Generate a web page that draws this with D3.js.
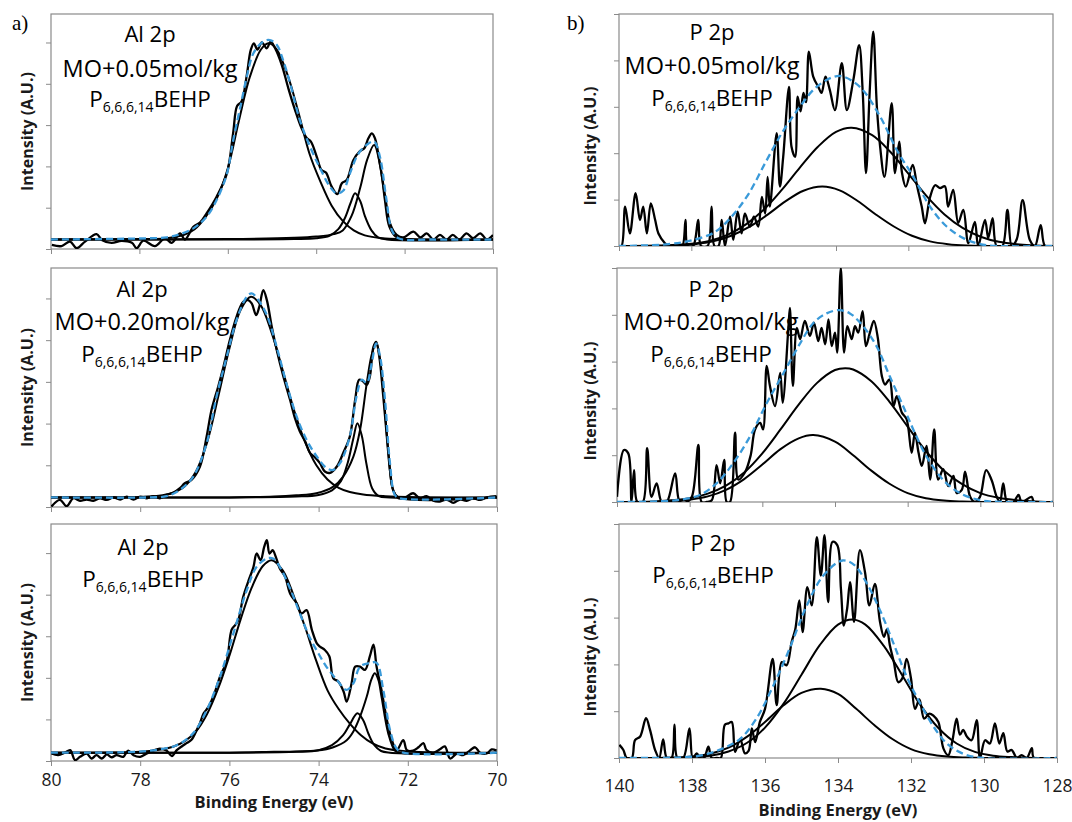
<!DOCTYPE html>
<html><head><meta charset="utf-8">
<script src="https://cdn.jsdelivr.net/npm/d3@7"></script>
<style>body{margin:0;background:#fff}svg{display:block}</style>
</head><body><svg id="chart" width="1072" height="822"></svg>
<script>
// ---------------- DATA (energy eV, intensity in axis-tick units) ----------------
const alTicks = [80, 78, 76, 74, 72, 70];
const pTicks = [140, 138, 136, 134, 132, 130, 128];

// Al 2p, MO + 0.05 mol/kg
const al005Raw = [[79.98,0.10],[79.76,0.07],[79.57,0.18],[79.42,0.02],[79.23,0.18],[78.97,0.36],[78.85,0.22],[78.63,0.15],[78.40,0.20],[78.17,0.15],[78.06,0.02],[77.91,0.20],[77.65,0.07],[77.42,0.26],[77.27,0.15],[77.08,0.38],[76.97,0.23],[76.78,0.54],[76.63,0.64],[76.48,0.86],[76.25,1.27],[76.02,1.83],[75.88,2.80],[75.79,3.46],[75.69,3.57],[75.57,4.21],[75.48,4.82],[75.41,4.98],[75.33,4.83],[75.23,5.00],[75.12,4.86],[75.03,5.02],[74.93,4.86],[74.78,4.46],[74.63,3.89],[74.48,3.37],[74.33,2.92],[74.21,2.68],[74.12,2.60],[73.99,2.24],[73.88,1.91],[73.78,1.85],[73.65,1.51],[73.52,1.33],[73.42,1.59],[73.31,1.67],[73.16,2.15],[73.02,2.36],[72.91,2.44],[72.82,2.68],[72.74,2.80],[72.67,2.68],[72.56,2.07],[72.44,1.27],[72.33,0.62],[72.18,0.34],[72.03,0.28],[71.80,0.42],[71.64,0.28],[71.50,0.38],[71.35,0.23],[71.20,0.34],[71.05,0.23],[70.91,0.34],[70.76,0.23],[70.60,0.38],[70.45,0.26],[70.29,0.38],[70.14,0.23],[70.00,0.34]];
const al005Main = [[80,0.23],[78,0.24],[77.5,0.25],[77,0.34],[76.75,0.48],[76.5,0.78],[76.25,1.22],[76,1.95],[75.75,3.10],[75.5,4.17],[75.25,4.83],[75.08,4.98],[74.9,4.84],[74.65,4.22],[74.4,3.30],[74.15,2.30],[73.9,1.62],[73.65,1.05],[73.4,0.68],[73.15,0.45],[72.9,0.33],[72.5,0.26],[72,0.24],[70,0.23]];
const al005Peak1 = [[80,0.23],[76,0.23],[74.5,0.24],[74,0.26],[73.7,0.32],[73.5,0.48],[73.35,0.75],[73.22,1.12],[73.12,1.35],[73.0,1.15],[72.9,0.80],[72.75,0.45],[72.6,0.28],[72.4,0.23],[70,0.23]];
const al005Peak2 = [[80,0.23],[76,0.24],[74.5,0.27],[74,0.30],[73.6,0.36],[73.4,0.45],[73.2,0.80],[73.0,1.50],[72.85,2.15],[72.69,2.52],[72.55,2.00],[72.45,1.20],[72.35,0.55],[72.2,0.30],[72.0,0.24],[70,0.23]];
const al005Env = [[80,0.23],[77.76,0.26],[77.38,0.28],[77.08,0.36],[76.78,0.50],[76.48,0.78],[76.25,1.19],[76.02,1.82],[75.88,2.62],[75.72,3.42],[75.57,4.17],[75.42,4.74],[75.20,5.02],[75.05,5.06],[74.89,4.94],[74.74,4.54],[74.59,4.01],[74.37,3.12],[74.14,2.48],[73.91,1.95],[73.69,1.51],[73.54,1.35],[73.39,1.41],[73.24,1.82],[73.05,2.30],[72.86,2.52],[72.69,2.60],[72.56,2.24],[72.41,1.19],[72.29,0.46],[72.14,0.26],[71.35,0.23],[70,0.23]];

// Al 2p, MO + 0.20 mol/kg
const al020Raw = [[79.99,0.01],[79.80,0.17],[79.65,0.02],[79.50,0.21],[79.35,0.15],[79.20,0.18],[79.05,0.15],[78.90,0.21],[78.75,0.17],[78.60,0.23],[78.45,0.18],[78.30,0.25],[78.15,0.18],[78.00,0.25],[77.85,0.21],[77.71,0.26],[77.56,0.21],[77.41,0.29],[77.26,0.34],[77.11,0.45],[77.00,0.57],[76.85,0.65],[76.66,0.97],[76.51,1.69],[76.40,2.33],[76.25,2.89],[76.14,3.33],[75.99,4.00],[75.84,4.56],[75.69,4.92],[75.58,4.96],[75.50,4.88],[75.40,4.60],[75.33,4.80],[75.24,5.20],[75.16,4.96],[75.05,4.32],[74.94,3.77],[74.79,3.13],[74.64,2.57],[74.53,2.13],[74.42,1.81],[74.30,1.57],[74.19,1.29],[74.08,1.19],[73.97,1.05],[73.86,0.85],[73.74,0.82],[73.59,0.97],[73.45,1.29],[73.30,1.69],[73.18,2.57],[73.09,3.05],[73.00,3.01],[72.92,2.93],[72.85,3.13],[72.77,3.84],[72.71,3.96],[72.64,3.61],[72.55,2.65],[72.47,1.69],[72.40,0.89],[72.33,0.41],[72.21,0.21],[72.06,0.23],[71.88,0.33],[71.73,0.21],[71.58,0.26],[71.43,0.15],[71.28,0.13],[71.13,0.18],[70.98,0.10],[70.83,0.18],[70.68,0.15],[70.53,0.21],[70.38,0.17],[70.23,0.23],[70.01,0.26]];
const al020Main = [[80,0.23],[78,0.24],[77.5,0.28],[77.25,0.35],[77,0.50],[76.75,0.85],[76.5,1.55],[76.25,2.65],[76,3.80],[75.75,4.72],[75.52,5.04],[75.3,4.84],[75.05,4.17],[74.8,3.26],[74.55,2.32],[74.3,1.55],[74.05,1.00],[73.8,0.66],[73.55,0.46],[73.3,0.36],[73,0.30],[72.5,0.26],[72,0.24],[70,0.23]];
const al020Peak1 = [[80,0.23],[76,0.23],[74.5,0.25],[74,0.29],[73.7,0.40],[73.5,0.62],[73.35,1.05],[73.22,1.65],[73.13,2.01],[73.03,1.70],[72.93,1.05],[72.8,0.45],[72.65,0.26],[72.4,0.23],[70,0.23]];
const al020Peak2 = [[80,0.23],[76,0.23],[75,0.25],[74.5,0.28],[74.05,0.33],[73.67,0.49],[73.45,0.73],[73.22,1.21],[73.07,1.85],[72.92,2.97],[72.81,3.65],[72.71,3.94],[72.63,3.60],[72.55,2.81],[72.44,1.37],[72.33,0.41],[72.21,0.23],[70,0.23]];
const al020Env = [[80,0.23],[77.78,0.23],[77.41,0.26],[77.11,0.41],[76.81,0.73],[76.51,1.53],[76.29,2.64],[76.06,3.60],[75.84,4.48],[75.61,5.04],[75.50,5.12],[75.35,4.96],[75.16,4.60],[74.94,3.84],[74.72,2.96],[74.49,2.16],[74.27,1.61],[74.04,1.21],[73.82,0.93],[73.67,0.89],[73.52,1.05],[73.30,1.69],[73.15,2.65],[73.03,3.05],[72.92,2.97],[72.81,3.44],[72.71,3.92],[72.62,3.60],[72.51,2.56],[72.40,1.05],[72.29,0.29],[72.18,0.21],[70,0.23]];

// Al 2p, neat P6,6,6,14BEHP
const alNeatRaw = [[79.99,0.18],[79.84,0.14],[79.69,0.20],[79.57,0.26],[79.46,0.02],[79.35,0.10],[79.20,0.18],[79.09,0.06],[78.98,0.14],[78.86,0.06],[78.75,0.16],[78.64,0.09],[78.53,0.14],[78.38,0.10],[78.27,0.25],[78.15,0.14],[78.00,0.10],[77.85,0.18],[77.71,0.25],[77.56,0.30],[77.41,0.25],[77.29,0.12],[77.18,0.26],[77.07,0.35],[76.96,0.43],[76.85,0.51],[76.73,0.75],[76.66,0.91],[76.58,1.14],[76.47,1.30],[76.36,1.55],[76.21,2.03],[76.06,2.40],[75.95,3.16],[75.87,3.27],[75.80,3.39],[75.69,3.95],[75.58,4.31],[75.46,4.67],[75.39,4.99],[75.30,4.83],[75.22,5.15],[75.16,5.31],[75.10,4.99],[75.03,5.07],[74.96,4.91],[74.87,4.63],[74.75,4.43],[74.64,4.03],[74.49,3.79],[74.38,3.55],[74.27,3.63],[74.15,3.15],[74.04,2.83],[73.97,2.75],[73.86,2.67],[73.76,2.52],[73.67,1.99],[73.56,1.91],[73.44,1.67],[73.37,1.43],[73.26,1.87],[73.18,2.27],[73.07,2.27],[72.96,2.19],[72.85,2.52],[72.77,2.80],[72.70,2.27],[72.59,1.71],[72.47,0.99],[72.36,0.51],[72.25,0.26],[72.10,0.50],[72.02,0.26],[71.88,0.25],[71.76,0.33],[71.65,0.43],[71.58,0.26],[71.43,0.20],[71.28,0.28],[71.17,0.35],[71.05,0.06],[70.90,0.18],[70.76,0.14],[70.61,0.25],[70.49,0.33],[70.38,0.20],[70.23,0.18],[70.12,0.28],[70.01,0.25]];
const alNeatMain = [[80,0.20],[78,0.22],[77.5,0.28],[77.25,0.35],[77,0.48],[76.75,0.71],[76.5,1.13],[76.25,1.75],[76,2.53],[75.75,3.40],[75.5,4.17],[75.25,4.69],[75.05,4.83],[74.8,4.58],[74.55,3.95],[74.3,3.21],[74.05,2.40],[73.8,1.70],[73.55,1.25],[73.3,0.90],[73.05,0.62],[72.8,0.43],[72.5,0.30],[72,0.23],[70,0.20]];
const alNeatPeak1 = [[80,0.20],[76,0.20],[74.5,0.22],[74,0.26],[73.7,0.38],[73.45,0.62],[73.3,0.88],[73.13,1.15],[73.0,0.98],[72.88,0.65],[72.75,0.38],[72.6,0.24],[72.4,0.20],[70,0.20]];
const alNeatPeak2 = [[80,0.20],[76,0.20],[75,0.22],[74.5,0.23],[74.04,0.25],[73.67,0.33],[73.37,0.50],[73.22,0.71],[73.07,1.07],[72.92,1.55],[72.82,1.95],[72.74,2.11],[72.66,1.95],[72.59,1.55],[72.44,0.67],[72.29,0.25],[72.18,0.20],[70,0.20]];
const alNeatEnv = [[80,0.20],[78.15,0.22],[77.56,0.28],[77.18,0.38],[76.81,0.67],[76.51,1.22],[76.21,2.03],[75.91,3.07],[75.61,4.11],[75.39,4.67],[75.16,4.87],[75.02,4.87],[74.87,4.67],[74.64,4.15],[74.42,3.55],[74.19,2.95],[74.00,2.58],[73.82,2.26],[73.59,1.95],[73.37,1.71],[73.22,1.87],[73.07,2.27],[72.85,2.36],[72.70,2.36],[72.55,1.71],[72.40,0.75],[72.25,0.30],[72.10,0.20],[70,0.20]];

// P 2p, MO + 0.05 mol/kg
const p005Raw = [[140.0,0],[139.93,0],[139.83,0.85],[139.70,0.27],[139.54,1.14],[139.42,0.56],[139.33,0.85],[139.23,0.27],[139.12,0.92],[139.00,0.56],[138.91,0.27],[138.73,0.06],[138.64,0],[138.50,0],[138.36,0.02],[138.25,0],[138.16,0.56],[138.10,0],[137.95,0],[137.81,0.56],[137.73,0],[137.55,0],[137.44,0.85],[137.36,0],[137.25,0],[137.16,0.56],[137.07,0],[136.93,0.63],[136.84,0.13],[136.72,0.74],[136.61,0.27],[136.52,0.70],[136.38,0.42],[136.27,0.63],[136.15,0.42],[136.05,1.06],[135.96,0.70],[135.89,1.49],[135.83,0.85],[135.64,2.43],[135.55,1.28],[135.46,1.92],[135.30,3.43],[135.23,2.14],[135.13,1.92],[135.06,3.22],[134.98,2.90],[134.90,3.30],[134.83,3.10],[134.75,4.19],[134.63,3.65],[134.49,3.43],[134.40,3.30],[134.29,3.65],[134.17,3.36],[134.03,2.93],[133.84,3.94],[133.70,2.93],[133.52,3.58],[133.36,4.33],[133.26,3.30],[133.17,1.57],[133.07,3.30],[132.97,4.62],[132.87,3.00],[132.78,2.14],[132.66,1.49],[132.46,3.08],[132.37,1.57],[132.25,2.25],[132.18,1.60],[132.07,1.28],[131.88,1.75],[131.76,1.30],[131.63,0.85],[131.54,0.49],[131.40,1.05],[131.26,1.31],[131.12,1.25],[130.99,1.29],[130.90,0.85],[130.76,1.21],[130.62,0.50],[130.48,0.78],[130.34,0.06],[130.16,0.52],[130.07,0],[129.88,0.56],[129.79,0.17],[129.67,0.60],[129.56,0],[129.40,0],[129.26,0.78],[129.14,0],[129.0,0.15],[128.84,0.99],[128.64,0.13],[128.50,0],[128.34,0.45],[128.22,0],[128.0,0]];
const p005Major = [[140,0],[139,0.01],[138,0.05],[137.5,0.11],[137,0.24],[136.5,0.46],[136,0.78],[135.5,1.21],[135,1.69],[134.5,2.14],[134,2.46],[133.57,2.55],[133,2.39],[132.5,2.03],[132,1.56],[131.5,1.08],[131,0.68],[130.5,0.39],[130,0.20],[129.5,0.09],[129,0.04],[128,0]];
const p005Minor = [[140,0],[139,0],[138.4,0.01],[137.9,0.04],[137.4,0.10],[136.9,0.22],[136.4,0.41],[135.9,0.67],[135.4,0.96],[134.9,1.19],[134.38,1.28],[133.9,1.20],[133.4,0.97],[132.9,0.68],[132.4,0.42],[131.9,0.22],[131.4,0.10],[130.9,0.04],[130.4,0.01],[130,0],[128,0]];
const p005Env = [[140,0],[138.64,0.04],[137.95,0.13],[137.35,0.30],[136.9,0.62],[136.42,1.12],[135.95,1.80],[135.50,2.43],[135.0,3.00],[134.58,3.40],[134.12,3.63],[133.84,3.66],[133.34,3.43],[132.78,2.79],[132.32,2.07],[131.86,1.49],[131.40,0.85],[130.94,0.42],[130.48,0.17],[130.02,0.04],[129.5,0],[128,0]];

// P 2p, MO + 0.20 mol/kg
const p020Raw = [[140.0,0.11],[139.81,1.11],[139.69,1.04],[139.60,0],[139.53,0.68],[139.44,0],[139.29,0],[139.17,1.15],[139.05,0.11],[138.91,0.40],[138.77,0],[138.63,0],[138.40,0.61],[138.27,0],[138.08,0],[137.94,0.11],[137.76,1.22],[137.67,0],[137.53,0],[137.39,0.04],[137.26,0.79],[137.16,0.40],[137.05,0.90],[136.98,0],[136.89,0],[136.75,1.48],[136.66,0.48],[136.48,0.63],[136.32,1.00],[136.20,1.55],[136.06,1.69],[135.98,1.55],[135.88,2.91],[135.79,2.48],[135.65,2.05],[135.51,2.76],[135.44,2.12],[135.28,3.76],[135.24,4.15],[135.16,2.48],[135.05,3.72],[134.96,3.48],[134.83,3.87],[134.69,3.55],[134.58,3.83],[134.46,3.44],[134.37,3.72],[134.27,3.37],[134.18,3.90],[134.09,3.33],[134.00,3.62],[133.94,3.19],[133.84,5.0],[133.75,3.19],[133.66,3.76],[133.54,3.48],[133.45,3.76],[133.36,3.62],[133.24,4.08],[133.15,3.33],[133.04,3.62],[132.93,3.87],[132.82,3.50],[132.71,2.69],[132.62,2.51],[132.50,2.62],[132.39,2.05],[132.30,2.26],[132.16,1.91],[132.03,1.77],[131.89,1.05],[131.80,1.48],[131.70,1.05],[131.61,0.77],[131.48,1.20],[131.38,0.48],[131.27,1.55],[131.16,0.48],[131.02,0.70],[130.88,0.34],[130.74,0.56],[130.65,0.19],[130.51,0.26],[130.42,0.65],[130.28,0.11],[130.15,0],[130.01,0.11],[129.84,0.68],[129.69,0.47],[129.55,0.11],[129.46,0],[129.37,0.40],[129.26,0],[129.09,0],[128.95,0.15],[128.86,0],[128.59,0.11],[128.52,0],[128.01,0]];
const p020Major = [[140,0],[139,0.01],[138,0.08],[137.5,0.18],[137,0.35],[136.5,0.63],[136,1.04],[135.5,1.55],[135,2.08],[134.5,2.54],[134,2.82],[133.72,2.86],[133.5,2.83],[133,2.58],[132.5,2.14],[132,1.61],[131.5,1.09],[131,0.67],[130.5,0.38],[130,0.19],[129.5,0.09],[129,0.04],[128,0]];
const p020Minor = [[140,0],[139,0],[138.5,0.02],[138,0.05],[137.5,0.12],[137,0.26],[136.5,0.49],[136,0.80],[135.5,1.13],[135,1.36],[134.6,1.43],[134,1.29],[133.5,1.00],[133,0.67],[132.5,0.39],[132,0.19],[131.5,0.08],[131,0.03],[130.5,0.01],[130,0],[128,0]];
const p020Env = [[140,0],[138.36,0.04],[137.72,0.15],[137.26,0.40],[136.80,0.83],[136.34,1.40],[135.88,2.11],[135.42,2.75],[134.96,3.39],[134.60,3.82],[134.23,4.03],[133.88,4.10],[133.59,4.03],[133.22,3.75],[132.85,3.32],[132.49,2.68],[132.12,2.04],[131.84,1.54],[131.48,0.97],[131.02,0.47],[130.56,0.19],[130.01,0.04],[129.37,0],[128.01,0]];

// P 2p, neat P6,6,6,14BEHP
const pNeatRaw = [[139.99,0.28],[139.88,0.17],[139.79,0],[139.65,0],[139.56,0.38],[139.42,0.46],[139.26,0.85],[139.15,0.60],[139.01,0.17],[138.90,0],[138.79,0.40],[138.69,0],[138.56,0],[138.48,0.71],[138.40,0],[138.24,0],[138.07,0.63],[137.98,0],[137.87,0.10],[137.78,0],[137.67,0],[137.55,0.24],[137.46,0],[137.32,0],[137.21,0],[137.10,0.71],[137.0,0.74],[136.91,0.77],[136.82,0.13],[136.68,0.41],[136.55,0.10],[136.45,0.15],[136.36,0.63],[136.27,0.34],[136.14,0.77],[136.00,1.05],[135.79,2.12],[135.68,1.13],[135.54,2.05],[135.41,1.98],[135.27,2.48],[135.17,2.75],[135.06,3.37],[134.97,2.69],[134.84,3.65],[134.72,3.26],[134.58,4.72],[134.47,3.90],[134.37,4.76],[134.27,3.33],[134.15,4.62],[134.02,4.55],[133.92,3.62],[133.84,2.83],[133.75,3.19],[133.67,3.76],[133.56,2.91],[133.40,4.44],[133.26,3.97],[133.14,3.26],[132.99,3.72],[132.85,2.91],[132.74,2.59],[132.66,2.75],[132.58,2.41],[132.47,2.05],[132.35,1.62],[132.24,1.70],[132.12,2.12],[132.00,1.70],[131.89,1.05],[131.77,1.25],[131.64,0.84],[131.50,0.95],[131.38,0.90],[131.25,0.77],[131.11,0.20],[130.98,0.06],[130.87,0.35],[130.75,0.84],[130.66,0.50],[130.57,0.60],[130.47,0.46],[130.34,0.38],[130.20,0.81],[130.11,0],[129.97,0.38],[129.84,0.31],[129.70,0.74],[129.58,0.31],[129.47,0.53],[129.36,0.14],[129.24,0.17],[129.10,0],[128.97,0.06],[128.83,0],[128.69,0.21],[128.63,0],[128.01,0]];
const pNeatMajor = [[140,0],[139,0],[138.5,0],[138,0.02],[137.5,0.05],[137,0.14],[136.5,0.32],[136,0.65],[135.5,1.15],[135,1.78],[134.5,2.41],[134,2.85],[133.6,2.96],[133.25,2.85],[132.75,2.40],[132.25,1.78],[131.75,1.14],[131.25,0.64],[130.75,0.31],[130.25,0.13],[129.75,0.05],[129.25,0.02],[128.5,0],[128,0]];
const pNeatMinor = [[140,0],[139,0],[138.5,0.01],[138,0.03],[137.5,0.09],[137,0.22],[136.5,0.45],[136,0.77],[135.5,1.12],[135,1.39],[134.47,1.48],[134,1.37],[133.5,1.05],[133,0.70],[132.5,0.40],[132,0.19],[131.5,0.08],[131,0.03],[130.5,0.01],[130,0],[128,0]];
const pNeatEnv = [[140,0],[138.42,0.01],[137.78,0.05],[137.23,0.18],[136.68,0.41],[136.23,0.85],[135.77,1.55],[135.32,2.35],[134.86,3.25],[134.40,3.90],[133.88,4.22],[133.55,4.12],[133.21,3.73],[132.85,3.16],[132.48,2.45],[132.12,1.74],[131.75,1.17],[131.39,0.68],[131.02,0.31],[130.57,0.09],[130.02,0],[128.01,0]];

// text labels
const alLabels = ["Al 2p", "Al 2p", "Al 2p"];
const pLabels = ["P 2p", "P 2p", "P 2p"];
const sampleLabels = ["MO+0.05mol/kg", "MO+0.20mol/kg", null];

// ---------------- LAYOUT ----------------
const FONT = "'Open Sans', 'DejaVu Sans', sans-serif";
const BLUE = "#3a9ad9";
const GRID = "#8a8a8a";

const panels = [
  {raw: al005Raw, comps: [al005Main, al005Peak1, al005Peak2], env: al005Env, ticks: alTicks, xd: [80,70], yMax: 5.69, box: [51,493,14,249], title: alLabels[0], sample: sampleLabels[0], tx: 150, ty: [42,77,107], showX: false, ylabX: 33, ylabShift: 0},
  {raw: al020Raw, comps: [al020Main, al020Peak1, al020Peak2], env: al020Env, ticks: alTicks, xd: [80,70], yMax: 5.73, box: [51,497,268,507], title: alLabels[1], sample: sampleLabels[1], tx: 142, ty: [297,330,362], showX: false, ylabX: 33, ylabShift: 0},
  {raw: alNeatRaw, comps: [alNeatMain, alNeatPeak1, alNeatPeak2], env: alNeatEnv, ticks: alTicks, xd: [80,70], yMax: 5.70, box: [51,497,524,761], title: alLabels[2], sample: sampleLabels[2], tx: 143, ty: [555,null,587], showX: true, xpad: 8, xtitleY: 808, ylabX: 33, ylabShift: 0},
  {raw: p005Raw, comps: [p005Major, p005Minor], env: p005Env, ticks: pTicks, xd: [140,128], yMax: 5.0, box: [619,1053,14,246], title: pLabels[0], sample: sampleLabels[0], tx: 712, ty: [40,74,106], showX: false, ylabX: 596, ylabShift: 16},
  {raw: p020Raw, comps: [p020Major, p020Minor], env: p020Env, ticks: pTicks, xd: [140,128], yMax: 5.0, box: [617,1053,268,502], title: pLabels[1], sample: sampleLabels[1], tx: 711, ty: [297,330,362], showX: false, ylabX: 596, ylabShift: 16},
  {raw: pNeatRaw, comps: [pNeatMajor, pNeatMinor], env: pNeatEnv, ticks: pTicks, xd: [140,128], yMax: 5.0, box: [619,1057,524,758], title: pLabels[2], sample: sampleLabels[2], tx: 713, ty: [551,null,583], showX: true, xpad: 17, xtitleY: 816, ylabX: 596, ylabShift: 16}
];

const svg = d3.select("#chart");
svg.append("rect").attr("width",1072).attr("height",822).attr("fill","#fff");

panels.forEach((p, i) => {
  const [x0, x1, y0, y1] = p.box;
  const x = d3.scaleLinear().domain(p.xd).range([x0, x1]);
  const y = d3.scaleLinear().domain([0, p.yMax]).range([y1, y0]);
  const g = svg.append("g");
  const cid = "clip" + i;
  svg.append("clipPath").attr("id", cid).append("rect")
    .attr("x", x0).attr("y", y0).attr("width", x1 - x0).attr("height", y1 - y0);

  const yAx = g.append("g").attr("transform", `translate(${x0},0)`)
    .call(d3.axisLeft(y).tickValues(d3.range(0, Math.floor(p.yMax) + 1)).tickSize(5).tickFormat(""));
  yAx.select(".domain").remove();
  yAx.selectAll("line").attr("stroke", GRID);

  const xAx = g.append("g").attr("transform", `translate(0,${y1})`)
    .call(d3.axisBottom(x).tickValues(p.ticks).tickSize(5).tickPadding(p.xpad || 8)
      .tickFormat(p.showX ? d3.format("d") : ""));
  xAx.select(".domain").remove();
  xAx.selectAll("line").attr("stroke", GRID);
  xAx.selectAll("text").attr("font-family", FONT).attr("font-size", 17.5).attr("fill", "#1a1a1a");

  g.append("rect").attr("x", x0).attr("y", y0).attr("width", x1 - x0).attr("height", y1 - y0)
    .attr("fill", "none").attr("stroke", GRID).attr("stroke-width", 1.2);

  const line = d3.line().x(d => x(d[0])).y(d => y(d[1])).curve(d3.curveCatmullRom.alpha(0.5));
  const plot = g.append("g").attr("clip-path", `url(#${cid})`);
  p.comps.forEach(c => plot.append("path").attr("d", line(c)).attr("fill", "none")
    .attr("stroke", "#000").attr("stroke-width", 2));
  plot.append("path").attr("d", line(p.raw)).attr("fill", "none")
    .attr("stroke", "#000").attr("stroke-width", 2.3).attr("stroke-linejoin", "round");
  plot.append("path").attr("d", line(p.env)).attr("fill", "none")
    .attr("stroke", BLUE).attr("stroke-width", 2.3).attr("stroke-dasharray", "7,4");

  const cy = (y0 + y1) / 2 + p.ylabShift;
  g.append("text").attr("transform", `translate(${p.ylabX},${cy}) rotate(-90)`)
    .attr("text-anchor", "middle").attr("font-family", FONT).attr("font-weight", "bold")
    .attr("font-size", 16).attr("fill", "#1a1a1a").text("Intensity (A.U.)");

  if (p.showX) {
    g.append("text").attr("x", (x0 + x1) / 2).attr("y", p.xtitleY).attr("text-anchor", "middle")
      .attr("font-family", FONT).attr("font-weight", "bold").attr("font-size", 16.5)
      .attr("fill", "#1a1a1a").text("Binding Energy (eV)");
  }

  const ann = g.append("g").attr("font-family", FONT).attr("fill", "#000").attr("text-anchor", "middle");
  ann.append("text").attr("x", p.tx).attr("y", p.ty[0]).attr("font-size", 22).text(p.title);
  if (p.sample) ann.append("text").attr("x", p.tx).attr("y", p.ty[1]).attr("font-size", 23.5).text(p.sample);
  const t = ann.append("text").attr("x", p.tx).attr("y", p.ty[2]).attr("font-size", 22.5);
  t.append("tspan").text("P");
  t.append("tspan").attr("font-size", 14).attr("dy", 5).text("6,6,6,14");
  t.append("tspan").attr("dy", -5).text("BEHP");
});

svg.append("text").attr("x", 12).attr("y", 30).attr("font-family", "'Liberation Serif', serif")
  .attr("font-size", 21).text("a)");
svg.append("text").attr("x", 567).attr("y", 30).attr("font-family", "'Liberation Serif', serif")
  .attr("font-size", 21).text("b)");
</script></body></html>
